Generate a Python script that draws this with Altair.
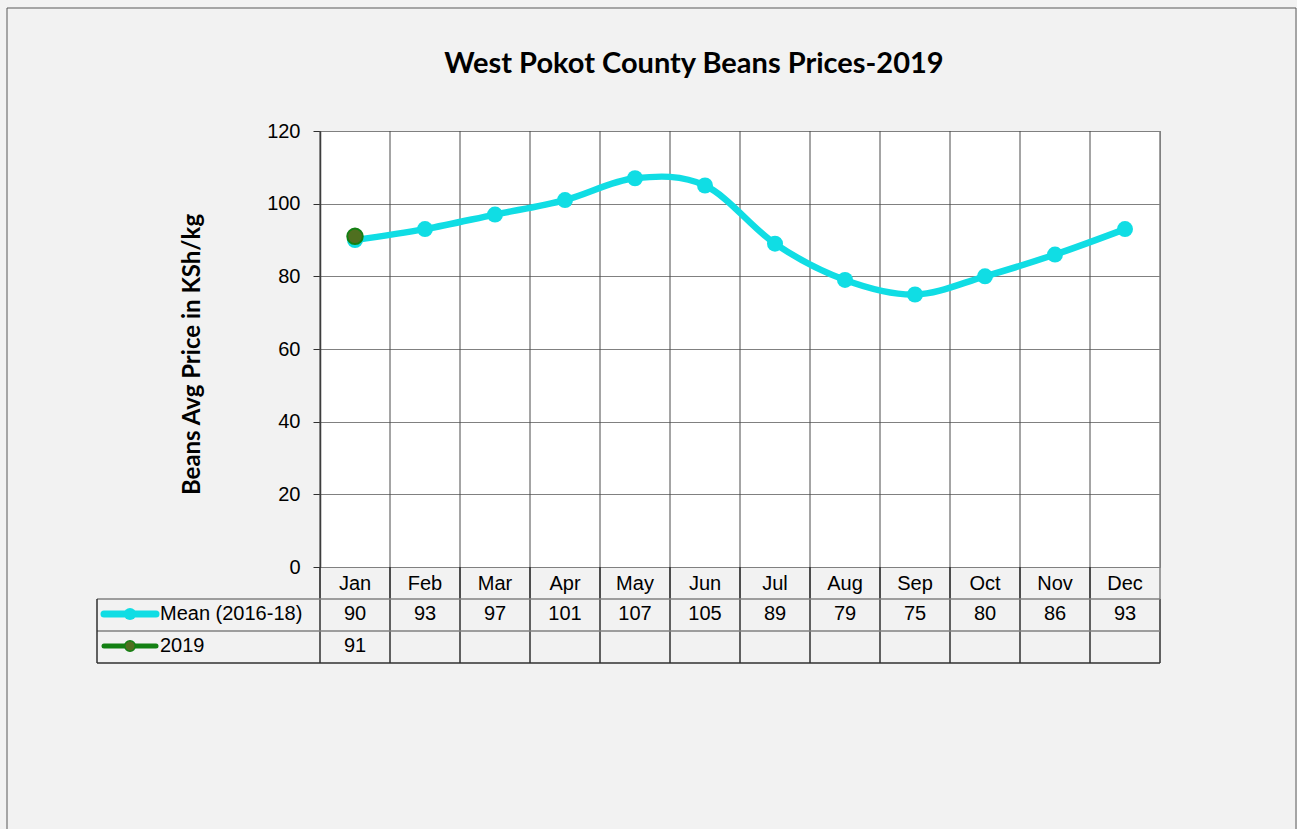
import altair as alt
import pandas as pd

# Monthly average bean prices (KSh/kg)
months = ["Jan", "Feb", "Mar", "Apr", "May", "Jun",
          "Jul", "Aug", "Sep", "Oct", "Nov", "Dec"]
mean_2016_18 = [90, 93, 97, 101, 107, 105, 89, 79, 75, 80, 86, 93]
months_2019 = ["Jan"]
prices_2019 = [91]
y_ticks = [0, 20, 40, 60, 80, 100, 120]

chart_title = "West Pokot County Beans Prices-2019"
y_title = "Beans Avg Price in KSh/kg"
series_names = ["Mean (2016-18)", "2019"]

mean_df = pd.DataFrame({"month": months, "price": mean_2016_18})
y19_df = pd.DataFrame({"month": months_2019, "price": prices_2019})
last_df = pd.DataFrame({"month": [months[-1]]})
title_df = pd.DataFrame({"label": [chart_title]})
mean_key_df = pd.DataFrame({"label": [series_names[0]]})
y19_key_df = pd.DataFrame({"label": [series_names[1]]})

CYAN = "#10dde4"
GREEN = "#138013"
OLIVE = "#4f6f1f"
GRID = "#808080"
VGRID = "#4a4a4a"
DARK = "#303030"
TXT_FONT = "Liberation Sans"
HEAD_FONT = "Lato"

x_scale = alt.Scale(type="band", domain=months, paddingInner=0, paddingOuter=0)
y_scale = alt.Scale(domain=[0, 120])

x_axis = alt.Axis(title=None, orient="bottom", domain=False, ticks=False,
                  grid=False, labelFont=TXT_FONT, labelFontSize=20,
                  labelColor="black", labelPadding=16,
                  labelBaseline="middle", labelAngle=0)
y_axis = alt.Axis(values=y_ticks, title=y_title, grid=True,
                  gridColor=GRID, gridWidth=1,
                  domainColor=DARK, domainWidth=1.5,
                  tickColor=DARK, tickSize=7, labelPadding=13,
                  labelFont=TXT_FONT, labelFontSize=20, labelColor="black",
                  titleFont=HEAD_FONT, titleFontSize=24, titleFontWeight="bold",
                  titleColor="black", titleAngle=270, titleAlign="center",
                  titleBaseline="middle", titleX=-128, titleY=223)

X = alt.X("month:N", scale=x_scale, axis=x_axis, sort=months)
X_start = alt.X("month:N", scale=x_scale, axis=x_axis, sort=months, bandPosition=0)
X_end = alt.X("month:N", scale=x_scale, axis=x_axis, sort=months, bandPosition=1)
Y = alt.Y("price:Q", scale=y_scale, axis=y_axis)

# outer chart frame
frame = alt.Chart(title_df).mark_rect(fill=None, stroke="#595959", strokeWidth=1).encode(
    x=alt.value(-313), x2=alt.value(976), y=alt.value(-123), y2=alt.value(720)
)

# vertical category separators inside the plot and through the data table
vgrid = alt.Chart(mean_df).mark_rule(color=VGRID, strokeWidth=1).encode(
    x=X_start, y=alt.value(0), y2=alt.value(468)
)
vgrid_end = alt.Chart(last_df).mark_rule(color=GRID, strokeWidth=1.5).encode(
    x=X_end, y=alt.value(0), y2=alt.value(468)
)
vtable = alt.Chart(mean_df).mark_rule(color=DARK, strokeWidth=1.5).encode(
    x=X_start, y=alt.value(436), y2=alt.value(532)
)
vtable_end = alt.Chart(last_df).mark_rule(color=DARK, strokeWidth=1.5).encode(
    x=X_end, y=alt.value(468), y2=alt.value(532)
)

# data table row lines and left edge
row_lines = [
    alt.Chart(title_df).mark_rule(color=GRID, strokeWidth=1.5).encode(
        x=alt.value(-223), x2=alt.value(840), y=alt.value(yy))
    for yy in (468, 500)
]
bottom_line = alt.Chart(title_df).mark_rule(color=DARK, strokeWidth=1.5).encode(
    x=alt.value(-223), x2=alt.value(840), y=alt.value(532))
left_line = alt.Chart(title_df).mark_rule(color=DARK, strokeWidth=1.5).encode(
    x=alt.value(-223), y=alt.value(468), y2=alt.value(532))

# series
mean_line = alt.Chart(mean_df).mark_line(color=CYAN, strokeWidth=6.5,
                                         interpolate="cardinal").encode(x=X, y=Y)
mean_pts = alt.Chart(mean_df).mark_point(filled=True, color=CYAN, size=256,
                                         opacity=1, shape="circle").encode(x=X, y=Y)
y19_pts = alt.Chart(y19_df).mark_point(filled=True, fill=OLIVE, stroke=GREEN,
                                       strokeWidth=2, size=240, opacity=1,
                                       shape="circle").encode(x=X, y=Y)

# table values
mean_vals = alt.Chart(mean_df).mark_text(font=TXT_FONT, fontSize=20, color="black",
                                         baseline="middle", align="center").encode(
    x=X, y=alt.value(483), text="price:Q")
y19_vals = alt.Chart(y19_df).mark_text(font=TXT_FONT, fontSize=20, color="black",
                                       baseline="middle", align="center").encode(
    x=X, y=alt.value(515), text="price:Q")

# legend keys inside the table
mean_key_line = alt.Chart(mean_key_df).mark_rule(color=CYAN, strokeWidth=7,
                                                 strokeCap="round").encode(
    x=alt.value(-216), x2=alt.value(-164), y=alt.value(483))
mean_key_dot = alt.Chart(mean_key_df).mark_point(filled=True, color=CYAN, size=150,
                                                 opacity=1, shape="circle").encode(
    x=alt.value(-190), y=alt.value(483))
y19_key_line = alt.Chart(y19_key_df).mark_rule(color=GREEN, strokeWidth=5,
                                               strokeCap="round").encode(
    x=alt.value(-216), x2=alt.value(-164), y=alt.value(515))
y19_key_dot = alt.Chart(y19_key_df).mark_point(filled=True, fill=OLIVE, stroke=GREEN,
                                               strokeWidth=1.5, size=110, opacity=1,
                                               shape="circle").encode(
    x=alt.value(-190), y=alt.value(515))
mean_key_txt = alt.Chart(mean_key_df).mark_text(font=TXT_FONT, fontSize=20, color="black",
                                                align="left", baseline="middle").encode(
    x=alt.value(-160), y=alt.value(483), text="label:N")
y19_key_txt = alt.Chart(y19_key_df).mark_text(font=TXT_FONT, fontSize=20, color="black",
                                              align="left", baseline="middle").encode(
    x=alt.value(-160), y=alt.value(515), text="label:N")

title = alt.Chart(title_df).mark_text(font=HEAD_FONT, fontSize=29, fontWeight="bold",
                                      color="black", align="center",
                                      baseline="middle").encode(
    x=alt.value(374), y=alt.value(-67), text="label:N")

chart = alt.layer(
    frame, vgrid, vgrid_end, vtable, vtable_end, *row_lines, bottom_line, left_line,
    mean_line, mean_pts, y19_pts, mean_vals, y19_vals,
    mean_key_line, mean_key_dot, y19_key_line, y19_key_dot,
    mean_key_txt, y19_key_txt, title
).properties(
    width=840, height=436,
    padding={"left": 320, "top": 131, "right": 137, "bottom": 262},
    autosize=alt.AutoSizeParams(type="none"),
    background="#f2f2f2",
).configure_view(
    fill="white", stroke=GRID, strokeWidth=1
)

chart.save("out.html", embed_options={"renderer": "svg", "actions": False})
